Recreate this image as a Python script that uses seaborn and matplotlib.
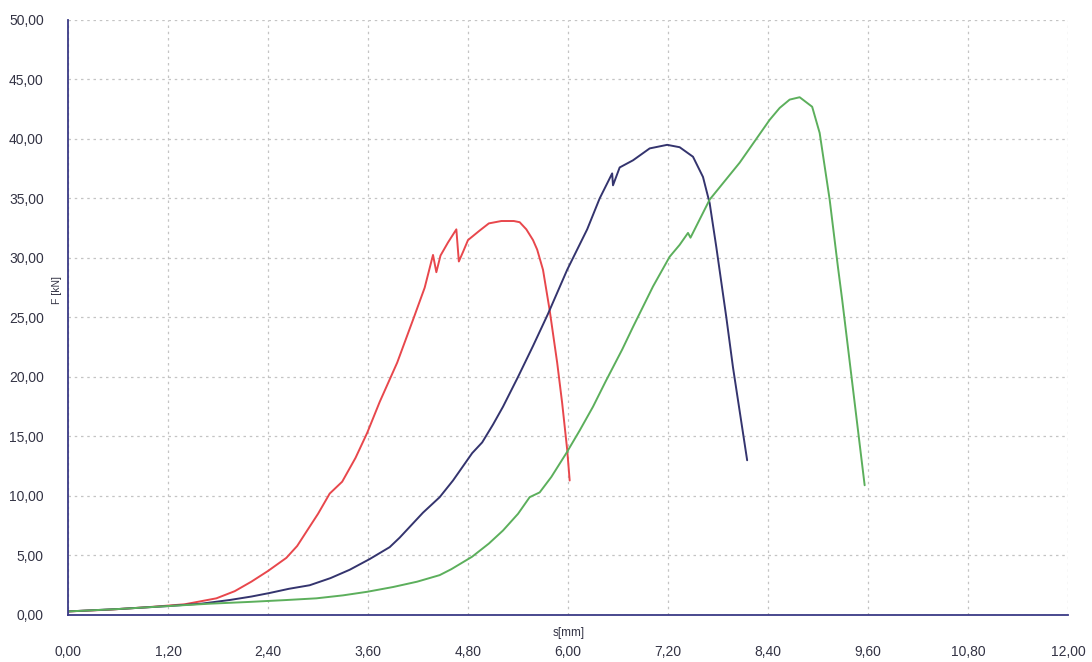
import pandas as pd
import seaborn as sns
import matplotlib.pyplot as plt

# curves (s in mm, F in kN)
red_s = [0.0, 0.5, 0.98, 1.4, 1.78, 2.0, 2.2, 2.4, 2.62, 2.75, 2.87, 3.0, 3.14, 3.29,
         3.45, 3.59, 3.74, 3.95, 4.14, 4.28, 4.38, 4.42, 4.47, 4.56, 4.66, 4.69, 4.74,
         4.8, 4.94, 5.05, 5.2, 5.35, 5.42, 5.5, 5.58, 5.63, 5.7, 5.78, 5.87, 5.93,
         5.99, 6.02]
red_f = [0.3, 0.45, 0.67, 0.9, 1.4, 2.0, 2.8, 3.7, 4.8, 5.8, 7.1, 8.5, 10.2, 11.2,
         13.2, 15.3, 17.9, 21.2, 24.8, 27.5, 30.25, 28.8, 30.2, 31.3, 32.4, 29.7, 30.5,
         31.5, 32.3, 32.9, 33.1, 33.1, 33.0, 32.4, 31.5, 30.7, 29.0, 25.6, 21.2, 17.8,
         13.9, 11.3]

blue_s = [0.0, 0.6, 1.2, 1.6, 1.94, 2.2, 2.42, 2.65, 2.9, 3.15, 3.38, 3.62, 3.86, 3.98,
          4.26, 4.46, 4.62, 4.85, 4.97, 5.1, 5.22, 5.4, 5.58, 5.76, 5.99, 6.23, 6.38,
          6.53, 6.54, 6.62, 6.78, 6.98, 7.19, 7.34, 7.5, 7.62, 7.7, 7.78, 7.9, 7.98, 8.15]
blue_f = [0.3, 0.5, 0.75, 0.95, 1.26, 1.55, 1.85, 2.2, 2.5, 3.1, 3.8, 4.7, 5.7, 6.5,
          8.6, 9.9, 11.3, 13.6, 14.5, 16.0, 17.5, 20.0, 22.6, 25.3, 29.0, 32.4, 35.0,
          37.1, 36.1, 37.6, 38.2, 39.2, 39.5, 39.3, 38.5, 36.8, 34.6, 30.9, 25.0, 20.8,
          13.0]

green_s = [0.0, 0.6, 1.2, 1.7, 2.18, 2.6, 2.98, 3.3, 3.59, 3.9, 4.19, 4.46, 4.6, 4.85,
           5.05, 5.22, 5.4, 5.54, 5.66, 5.8, 5.98, 6.14, 6.3, 6.45, 6.65, 6.78, 7.02,
           7.22, 7.34, 7.44, 7.47, 7.7, 8.06, 8.42, 8.54, 8.66, 8.78, 8.93, 9.02, 9.14,
           9.24, 9.29, 9.56]
green_f = [0.3, 0.5, 0.75, 0.95, 1.1, 1.25, 1.4, 1.65, 1.95, 2.35, 2.8, 3.35, 3.85, 4.9,
           6.0, 7.1, 8.5, 9.9, 10.3, 11.6, 13.6, 15.5, 17.5, 19.6, 22.3, 24.2, 27.6,
           30.1, 31.1, 32.1, 31.7, 34.9, 38.0, 41.6, 42.6, 43.3, 43.5, 42.7, 40.5, 34.9,
           29.2, 26.5, 10.9]

x_ticks = [0.0, 1.2, 2.4, 3.6, 4.8, 6.0, 7.2, 8.4, 9.6, 10.8, 12.0]
y_ticks = [0, 5, 10, 15, 20, 25, 30, 35, 40, 45, 50]

AXIS_COLOR = "#3a3a86"
palette = {"red": "#e8474c", "blue": "#34346e", "green": "#5caf5c"}


def build_frame():
    parts = []
    for name, s, f in [("red", red_s, red_f), ("blue", blue_s, blue_f),
                       ("green", green_s, green_f)]:
        parts.append(pd.DataFrame({"s": s, "F": f, "sample": name}))
    return pd.concat(parts, ignore_index=True)


def comma(v):
    return f"{v:.2f}".replace(".", ",")


def plot_curves(df):
    sns.set_style("white")
    plt.rcParams["font.family"] = ["Liberation Sans Narrow", "Liberation Sans", "DejaVu Sans"]

    fig = plt.figure(figsize=(10.92, 6.62), dpi=100)
    ax = fig.add_axes([0.0623, 0.071, 0.9157, 0.899])

    sns.lineplot(data=df, x="s", y="F", hue="sample", palette=palette,
                 sort=False, estimator=None, linewidth=1.4, legend=False, ax=ax)

    ax.set_xlim(0, 12)
    ax.set_ylim(0, 50)
    ax.set_xticks(x_ticks)
    ax.set_yticks(y_ticks)
    ax.set_xticklabels([comma(v) for v in x_ticks])
    ax.set_yticklabels([comma(v) for v in y_ticks])
    ax.grid(True, color="#c4c4c4", linestyle=(0, (2, 3)), linewidth=0.9)

    for side in ["top", "right"]:
        ax.spines[side].set_visible(False)
    for side in ["left", "bottom"]:
        ax.spines[side].set_color(AXIS_COLOR)
        ax.spines[side].set_linewidth(1.3)

    ax.tick_params(axis="both", direction="inout", length=5, width=1,
                   color=AXIS_COLOR, labelsize=10, labelcolor="#333344")
    ax.tick_params(axis="x", pad=19)
    ax.tick_params(axis="y", pad=15)

    ax.set_xlabel("")
    ax.set_ylabel("")
    ax.text(0.501, -0.03, "s[mm]", transform=ax.transAxes, ha="center", va="center",
            fontsize=8.5, color="#333344")
    ax.text(-0.011, 0.546, "F [kN]", transform=ax.transAxes, ha="center", va="center",
            rotation=90, fontsize=7.5, color="#333344")

    fig.savefig("out.png", dpi=100)


if __name__ == "__main__":
    df = build_frame()
    plot_curves(df)
